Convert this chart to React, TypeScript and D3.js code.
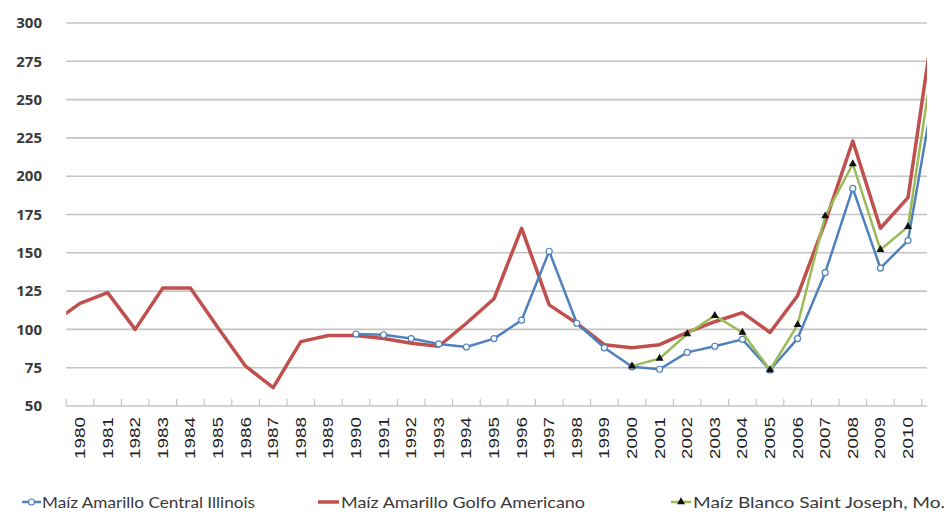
import React from "react";
import * as d3 from "d3";

const W = 951;
const H = 522;

// Category labels shown on the axis
const years: number[] = d3.range(1980, 2011);
const yTicks: number[] = [50, 75, 100, 125, 150, 175, 200, 225, 250, 275, 300];

// Series values (1979 and 2011 fall outside the visible plot and are clipped)
const golfoYears: number[] = d3.range(1979, 2012);
const golfoValues: number[] = [
  104, 117, 124, 100, 127, 127, 101, 76, 62, 92, 96, 96, 94, 91, 89, 104, 120,
  166, 116, 104, 90, 88, 90, 98, 105, 111, 98, 122, 170, 223, 166, 186, 309,
];

const illinoisYears: number[] = d3.range(1990, 2012);
const illinoisValues: number[] = [
  97, 96.5, 94, 90.5, 88.5, 94, 106, 151, 104, 88, 75.6, 74, 85, 89, 93.5, 73.5,
  94, 137, 192, 140, 158, 262,
];

const joseYears: number[] = d3.range(2000, 2012);
const joseValues: number[] = [76, 81, 97, 109, 98, 73.5, 103, 174, 208, 152, 167, 287];

const seriesNames: string[] = [
  "Maíz Amarillo Central Illinois",
  "Maíz Amarillo Golfo Americano",
  "Maíz Blanco Saint Joseph, Mo.",
];

const BLUE = "#4F81BD";
const RED = "#C0504D";
const GREEN = "#9BBB59";
const GRID = "#c4c4c4";

export default function App() {
  const x = d3.scaleLinear().domain([1980, 2010]).range([80, 908]);
  const y = d3.scaleLinear().domain([50, 300]).range([406, 23]);
  const left = x(1979.5);
  const right = 927;

  const line = d3
    .line<[number, number]>()
    .x((d) => x(d[0]))
    .y((d) => y(d[1]));

  const zip = (ys: number[], vs: number[]) =>
    ys.map((yr, i) => [yr, vs[i]] as [number, number]);

  const golfo = zip(golfoYears, golfoValues);
  const illinois = zip(illinoisYears, illinoisValues);
  const jose = zip(joseYears, joseValues);

  const tickPos = d3.range(1979.5, 2011, 1);
  const tri = d3.symbol().type(d3.symbolTriangle).size(28)();

  const font = "Lato, 'Open Sans', sans-serif";

  return (
    <svg
      width={W}
      height={H}
      style={{ position: "absolute", left: 0, top: 0, background: "#fff" }}
    >
      <defs>
        <clipPath id="plot">
          <rect x={left} y={0} width={right - left} height={H} />
        </clipPath>
      </defs>

      {/* gridlines */}
      {yTicks.map((t) => (
        <line
          key={t}
          x1={left}
          x2={right}
          y1={y(t)}
          y2={y(t)}
          stroke={GRID}
          strokeWidth={1.6}
        />
      ))}

      {/* ticks on x axis (between categories, pointing up) */}
      {tickPos.map((t) => (
        <line
          key={t}
          x1={x(t)}
          x2={x(t)}
          y1={y(50) - 7}
          y2={y(50)}
          stroke={GRID}
          strokeWidth={1.2}
        />
      ))}

      {/* y labels */}
      {yTicks.map((t) => (
        <text
          key={t}
          x={42}
          y={y(t)}
          dy="0.35em"
          textAnchor="end"
          fontFamily="'Open Sans', sans-serif"
          fontWeight={700}
          fontSize={15}
          fill="#3a3a3a"
        >
          {t}
        </text>
      ))}

      {/* x labels */}
      {years.map((yr) => (
        <text
          key={yr}
          transform={`translate(${x(yr)},417) rotate(-90)`}
          dy="0.35em"
          textAnchor="end"
          fontFamily="'Liberation Sans', Arial, sans-serif"
          fontSize={14}
          textLength={42}
          lengthAdjust="spacingAndGlyphs"
          fill="#222"
        >
          {yr}
        </text>
      ))}

      <g clipPath="url(#plot)">
        <path d={line(golfo) || ""} fill="none" stroke={RED} strokeWidth={3.5} strokeLinejoin="round" />
        <path d={line(illinois) || ""} fill="none" stroke={BLUE} strokeWidth={2.5} strokeLinejoin="round" />
        {illinois
          .filter((d) => d[0] <= 2010)
          .map((d) => (
            <circle key={d[0]} cx={x(d[0])} cy={y(d[1])} r={3} fill="#fff" stroke={BLUE} strokeWidth={1.2} />
          ))}
        <path d={line(jose) || ""} fill="none" stroke={GREEN} strokeWidth={2.5} strokeLinejoin="round" />
        {jose
          .filter((d) => d[0] <= 2010)
          .map((d) => (
            <path key={d[0]} d={tri || ""} transform={`translate(${x(d[0])},${y(d[1])})`} fill="#111" />
          ))}
      </g>

      {/* legend */}
      <g fontFamily={font} fontSize={15} fill="#3a3a3a">
        <line x1={22} x2={41} y1={502} y2={502} stroke={BLUE} strokeWidth={2.5} />
        <circle cx={31.5} cy={502} r={3} fill="#fff" stroke={BLUE} strokeWidth={1.2} />
        <text x={42} y={507.5} textLength={213} lengthAdjust="spacingAndGlyphs">{seriesNames[0]}</text>

        <line x1={318} x2={339} y1={502} y2={502} stroke={RED} strokeWidth={3.5} />
        <text x={341} y={507.5} textLength={244} lengthAdjust="spacingAndGlyphs">{seriesNames[1]}</text>

        <line x1={671} x2={691} y1={502} y2={502} stroke={GREEN} strokeWidth={2.5} />
        <path d={tri || ""} transform="translate(681,502)" fill="#111" />
        <text x={693} y={507.5} textLength={252} lengthAdjust="spacingAndGlyphs">{seriesNames[2]}</text>
      </g>
    </svg>
  );
}
